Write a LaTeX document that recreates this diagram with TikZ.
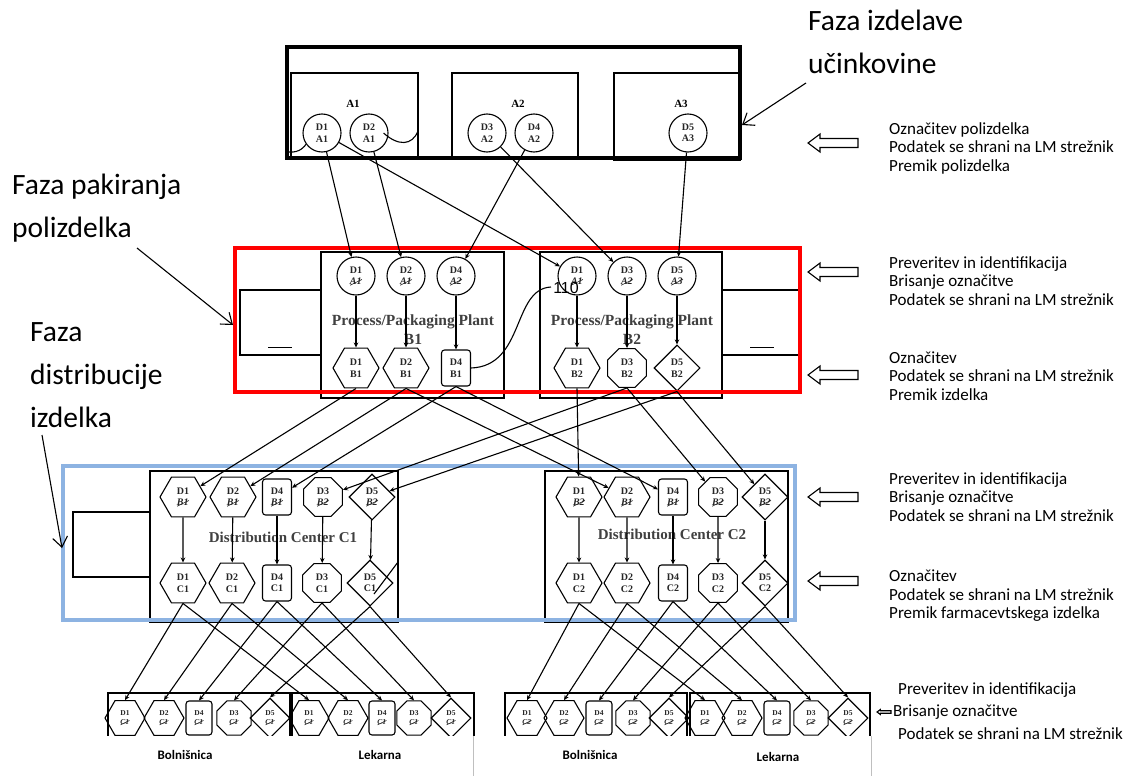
\documentclass[tikz,border=0pt]{standalone}
\usepackage{fontspec}
\usepackage{graphicx}
\setmainfont{Liberation Serif}
\newfontfamily\calfont{Carlito}
\newfontfamily\lsans{Liberation Sans}
\usetikzlibrary{shapes.geometric,arrows.meta}
\definecolor{phblue}{RGB}{141,179,226}
\definecolor{phred}{RGB}{255,0,0}
\newcommand\strk[1]{\setbox0\hbox{\itshape #1}\rlap{\copy0}\raisebox{-0.2ex}{\rotatebox[origin=bl]{26}{\rule{1.12\wd0}{0.6pt}}}}
\begin{document}
\begin{tikzpicture}[x=1pt,y=-1pt,
  lbl/.style={font=\fontsize{10}{11.5}\selectfont\bfseries, align=center, text=black!85},
  small/.style={font=\fontsize{7.5}{8.5}\selectfont\bfseries},
  nd/.style={draw, line width=1.1pt, inner sep=0pt, lbl},
  circ/.style={nd, circle, minimum size=38pt},
  hexa/.style={nd, regular polygon, regular polygon sides=6, minimum size=46pt},
  octa/.style={nd, regular polygon, regular polygon sides=8, minimum size=42pt},
  rsq/.style={nd, rectangle, rounded corners=3pt, minimum width=29pt, minimum height=36pt},
  dia/.style={nd, diamond, minimum width=46pt, minimum height=46pt},
  bhexa/.style={nd, small, regular polygon, regular polygon sides=6, minimum size=40pt},
  bocta/.style={nd, small, regular polygon, regular polygon sides=8, minimum size=37pt},
  brsq/.style={nd, small, rectangle, rounded corners=3pt, minimum width=26pt, minimum height=34pt},
  bdia/.style={nd, small, diamond, minimum width=40pt, minimum height=40pt},
  frame/.style={draw, line width=1.1pt},
  con/.style={line width=1.1pt, -{Stealth[length=5pt,width=4.5pt]}},
  plain/.style={line width=1.1pt},
  plant/.style={font=\fontsize{15.5}{18}\selectfont\bfseries, text=black!75, inner sep=0pt},
  note/.style={font=\calfont\fontsize{17}{18.5}\selectfont, align=left, anchor=west, inner sep=0pt},
  phase/.style={font=\calfont\fontsize{29.5}{43}\selectfont, align=left, anchor=north west, inner sep=0pt},
  pointer/.style={line width=1.1pt, -{Straight Barb[length=10pt,width=15pt]}},
  harrow/.pic={\draw[line width=1.1pt, fill=white] (0,0) -- (12,-9) -- (12,-4.5) -- (50,-4.5) -- (50,4.5) -- (12,4.5) -- (12,9) -- cycle;}
]
\useasboundingbox (0,0) rectangle (1137,776);
\fill[white] (0,0) rectangle (1137,776);

% ---------------- stage A ----------------
\draw[frame] (291,73) rectangle (418,157);
\draw[frame] (452,73) rectangle (578,157);
\draw[frame] (614,73) rectangle (740,160);
\draw[line width=4.5pt] (287,47) rectangle (740,158);
\node[font=\fontsize{11}{13}\selectfont\bfseries] (tA1) at (353,104) {A1};
\node[font=\fontsize{11}{13}\selectfont\bfseries] (tA2) at (518,104) {A2};
\node[font=\fontsize{11}{13}\selectfont\bfseries] (tA3) at (681,104) {A3};
\node[circ] (a1d1) at (322,133) {D1\\A1};
\node[circ] (a1d2) at (369,133) {D2\\A1};
\node[circ] (a2d3) at (487,133) {D3\\A2};
\node[circ] (a2d4) at (534,133) {D4\\A2};
\node[circ] (a3d5) at (688,133) {D5\\A3};
\coordinate (a1L) at (289,152);
\coordinate (a1R) at (418,131);
\draw[plain] (a1d1.215) .. controls (305,146) and (300,153) .. (a1L);
\draw[plain] ([xshift=-5pt]a1d2.east) .. controls (398,146) and (412,146) .. (a1R);

% ---------------- stage B ----------------
\draw[frame] (240,290) rectangle (321,355);
\draw[frame] (722,290) rectangle (800,355);
\draw[line width=0.9pt] (268,347) -- (292,347);
\draw[line width=0.9pt] (750,347) -- (774,347);
\draw[frame] (321,252) rectangle (504,398);
\draw[frame] (540,252) rectangle (722,398);
\node[plant] (pp1) at (413,322) {Process/Packaging Plant};
\node[plant] (pb1) at (413,339) {B1};
\node[plant] (pp2) at (632,322) {Process/Packaging Plant};
\node[plant] (pb2) at (632,339) {B2};
\node[circ] (b1c1) at (356,276) {D1\\\strk{A1}};
\node[circ] (b1c2) at (406,276) {D2\\\strk{A1}};
\node[circ] (b1c4) at (456,276) {D4\\\strk{A2}};
\node[circ] (b2c1) at (577,276) {D1\\\strk{A1}};
\node[circ] (b2c3) at (627,276) {D3\\\strk{A2}};
\node[circ] (b2c5) at (677,276) {D5\\\strk{A3}};
\node[hexa] (b1h1) at (356,368) {D1\\B1};
\node[hexa] (b1h2) at (406,368) {D2\\B1};
\node[rsq]  (b1s4) at (456,368) {D4\\B1};
\node[hexa] (b2h1) at (577,368) {D1\\B2};
\node[octa] (b2o3) at (627,368) {D3\\B2};
\node[dia]  (b2d5) at (677,368) {D5\\B2};
\draw[con] (b1c1) -- (b1h1);
\draw[con] (b1c2) -- (b1h2);
\draw[con] (b1c4) -- (b1s4);
\draw[con] (b2c1) -- (b2h1);
\draw[con] (b2c3) -- (b2o3);
\draw[con] (b2c5) -- (b2d5);
\coordinate (c110) at (551,287);
\draw[plain] (b1s4.east) .. controls (525,366) and (512,289) .. (c110);
\node[font=\lsans\fontsize{16}{18}\selectfont, inner sep=0pt] (n110) at (566,288) {110};
\draw[phred, line width=4.5pt] (235,248) rectangle (800,392);

% A -> B
\draw[con] (a1d1) -- (b1c1);
\draw[con] (a1d1) -- (b2c1);
\draw[con] (a1d2) -- (b1c2);
\draw[con] (a2d3) -- (b2c3);
\draw[con] (a2d4) -- (b1c4);
\draw[con] (a3d5) -- (b2c5);

% ---------------- stage C ----------------
\draw[frame] (73,512) rectangle (150,577);
\draw[frame] (150,471) rectangle (398,622);
\draw[frame] (545,471) rectangle (788,622);
\node[plant, font=\fontsize{15}{17}\selectfont\bfseries] (dc1) at (283,537) {Distribution Center C1};
\node[plant, font=\fontsize{15}{17}\selectfont\bfseries] (dc2) at (672,534) {Distribution Center C2};
\node[hexa] (c1t1) at (183,497) {D1\\\strk{B1}};
\node[hexa] (c1t2) at (233,497) {D2\\\strk{B1}};
\node[rsq]  (c1t4) at (277,497) {D4\\\strk{B1}};
\node[octa] (c1t3) at (323,497) {D3\\\strk{B2}};
\node[dia]  (c1t5) at (372,497) {D5\\\strk{B2}};
\node[hexa] (c1b1) at (183,583) {D1\\C1};
\node[hexa] (c1b2) at (232,583) {D2\\C1};
\node[rsq]  (c1b4) at (277,583) {D4\\C1};
\node[octa] (c1b3) at (322,583) {D3\\C1};
\node[dia]  (c1b5) at (370,583) {D5\\C1};
\node[hexa] (c2t1) at (579,497) {D1\\\strk{B2}};
\node[hexa] (c2t2) at (627,497) {D2\\\strk{B1}};
\node[rsq]  (c2t4) at (673,497) {D4\\\strk{B1}};
\node[octa] (c2t3) at (718,497) {D3\\\strk{B2}};
\node[dia]  (c2t5) at (765,497) {D5\\\strk{B2}};
\node[hexa] (c2b1) at (579,583) {D1\\C2};
\node[hexa] (c2b2) at (627,583) {D2\\C2};
\node[rsq]  (c2b4) at (673,583) {D4\\C2};
\node[octa] (c2b3) at (718,583) {D3\\C2};
\node[dia]  (c2b5) at (765,583) {D5\\C2};
\foreach \p in {1,2,4,3,5}{
  \draw[con] (c1t\p) -- (c1b\p);
  \draw[con] (c2t\p) -- (c2b\p);
}
\coordinate (c1x) at (398,562);
\draw[plain] ([shift={(4pt,-11pt)}]c1b5.center) -- (c1x);
\draw[phblue, line width=4pt] (63,466) rectangle (795,620);

% B -> C
\draw[con] (b1h1.south) -- (c1t1);
\draw[con] (b1h2.south) -- (c1t2);
\draw[con] (b1s4.south) -- (c1t4);
\draw[con] (b1h2.south) -- (c2t2);
\draw[con] (b1s4.south) -- (c2t4);
\draw[con] (b2o3.south) -- (c1t3);
\draw[con] (b2d5.south) -- (c1t5);
\draw[con] (b2h1.south) -- (c2t1);
\draw[con] (b2o3.south) -- (c2t3);
\draw[con] (b2d5.south) -- (c2t5);

% ---------------- stage D (hospital / pharmacy) ----------------
\draw[frame] (108,693) rectangle (290,750);
\draw[frame] (292,693) rectangle (474,750);
\draw[frame] (505,693) rectangle (687,750);
\draw[frame] (690,693) rectangle (870,750);
\foreach \g/\c/\xa/\xb/\xc/\xd/\xe in {lb/C1/125/164/199/234/270, ll/C1/309/348/382/414/451, rb/C2/527/564/599/633/669, rl/C2/705/742/777/811/848}{
  \node[bhexa] (\g1) at (\xa,718) {D1\\\strk{\c}};
  \node[bhexa] (\g2) at (\xb,718) {D2\\\strk{\c}};
  \node[brsq]  (\g4) at (\xc,718) {D4\\\strk{\c}};
  \node[bocta] (\g3) at (\xd,718) {D3\\\strk{\c}};
  \node[bdia]  (\g5) at (\xe,718) {D5\\\strk{\c}};
}
\foreach \p in {1,2,4,3,5}{
  \draw[con] (c1b\p.south) -- (lb\p.north);
  \draw[con] (c1b\p.south) -- (ll\p.north);
  \draw[con] (c2b\p.south) -- (rb\p.north);
  \draw[con] (c2b\p.south) -- (rl\p.north);
}
\fill[white] (100,736) rectangle (880,776);
\draw[black!25, line width=0.6pt] (473,736) -- (473,776);
\draw[black!25, line width=0.6pt] (871,736) -- (871,776);
\node[font=\calfont\fontsize{13}{15}\selectfont\bfseries] (bol1) at (185,755) {Bolnišnica};
\node[font=\calfont\fontsize{13}{15}\selectfont\bfseries] (lek1) at (380,755) {Lekarna};
\node[font=\calfont\fontsize{13}{15}\selectfont\bfseries] (bol2) at (590,755) {Bolnišnica};
\node[font=\calfont\fontsize{13}{15}\selectfont\bfseries] (lek2) at (778,757) {Lekarna};

% ---------------- phase labels ----------------
\node[phase] (ph1) at (808,10) {Faza izdelave\\učinkovine};
\coordinate (ph1s) at (806,83);
\coordinate (ph1e) at (742,125);
\draw[pointer] (ph1s) -- (ph1e);
\node[phase] (ph2) at (12,174) {Faza pakiranja\\polizdelka};
\coordinate (ph2s) at (137,248);
\coordinate (ph2e) at (233,325);
\draw[pointer] (ph2s) -- (ph2e);
\node[phase] (ph3) at (30,322) {Faza\\distribucije\\izdelka};
\coordinate (ph3s) at (42,435);
\coordinate (ph3e) at (62,548);
\draw[pointer] (ph3s) -- (ph3e);

% ---------------- right notes ----------------
\pic at (808,143) {harrow};
\pic at (808,272) {harrow};
\pic at (808,375) {harrow};
\pic at (808,497) {harrow};
\pic at (808,581) {harrow};
\pic[scale=0.28] at (877,712) {harrow};
\node[note] (r1) at (889,148) {Označitev polizdelka\\Podatek se shrani na LM strežnik\\Premik polizdelka};
\node[note] (r2) at (889,281) {Preveritev in identifikacija\\Brisanje označitve\\Podatek se shrani na LM strežnik};
\node[note] (r3) at (889,376) {Označitev\\Podatek se shrani na LM strežnik\\Premik izdelka};
\node[note] (r4) at (889,497) {Preveritev in identifikacija\\Brisanje označitve\\Podatek se shrani na LM strežnik};
\node[note] (r5) at (889,596) {Označitev\\Podatek se shrani na LM strežnik\\Premik farmacevtskega izdelka};
\node[note] (r6a) at (898,690) {Preveritev in identifikacija};
\node[note] (r6b) at (893,712) {Brisanje označitve};
\node[note] (r6c) at (898,734) {Podatek se shrani na LM strežnik};
\end{tikzpicture}
\end{document}
